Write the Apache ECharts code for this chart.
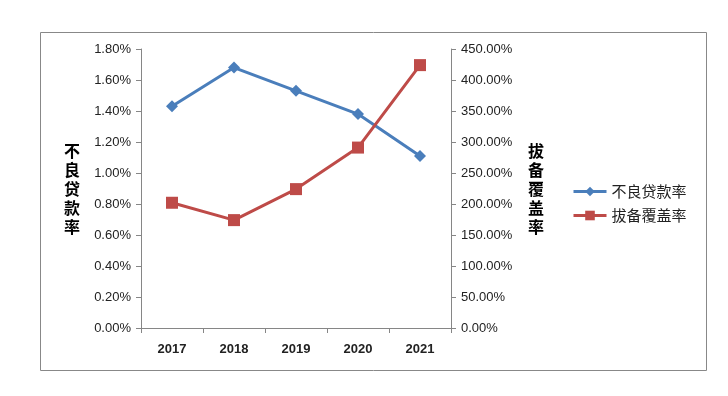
<!DOCTYPE html>
<html>
<head>
<meta charset="utf-8">
<script src="https://cdn.jsdelivr.net/npm/echarts@6/dist/echarts.min.js"></script>
<style>
  html, body { margin: 0; padding: 0; background: #fff; }
  #chart { width: 728px; height: 396px; }
</style>
</head>
<body>
<div id="chart"></div>
<script>
// 年份与两条序列
const years = ['2017', '2018', '2019', '2020', '2021'];
const nplRatio = [1.43, 1.68, 1.53, 1.38, 1.11];          // 不良贷款率 (%)
const coverageRatio = [202, 174, 224, 291, 424];           // 拔备覆盖率 (%)
const leftTicks = { min: 0, max: 1.8, interval: 0.2 };
const rightTicks = { min: 0, max: 450, interval: 50 };

let myChart = echarts.init(document.getElementById('chart'));
let axisColor = '#868686';
let labelColor = '#222';
let font = '"Liberation Sans", "DejaVu Sans", sans-serif';
let cjk = '"Noto Sans CJK SC", sans-serif';

let option = {
  animation: false,
  textStyle: { fontFamily: font },
  graphic: [{
    type: 'rect',
    shape: { x: 40.5, y: 32.5, width: 666, height: 338 },
    style: { fill: 'none', stroke: '#888', lineWidth: 1 }
  }],
  grid: { left: 141, right: 277, top: 49, bottom: 68 },
  legend: {
    orient: 'vertical',
    left: 567,
    top: 179,
    itemWidth: 33,
    itemHeight: 12,
    itemGap: 9,
    lineStyle: { width: 3 },
    textStyle: { fontFamily: cjk, fontSize: 15, color: '#222' },
    data: ['不良贷款率', '拔备覆盖率']
  },
  xAxis: {
    type: 'category',
    data: years,
    boundaryGap: true,
    axisLine: { lineStyle: { color: axisColor } },
    axisTick: { show: true, alignWithLabel: false, length: 5, lineStyle: { color: axisColor } },
    axisLabel: { color: labelColor, fontSize: 13, margin: 15, fontWeight: 'bold' },
    splitLine: { show: false }
  },
  yAxis: [{
    type: 'value',
    min: leftTicks.min, max: leftTicks.max, interval: leftTicks.interval,
    name: '不\n良\n贷\n款\n率',
    nameLocation: 'middle',
    nameRotate: 0,
    nameGap: 61,
    nameTextStyle: { fontFamily: cjk, fontWeight: 'bold', fontSize: 16, lineHeight: 19, color: '#000' },
    axisLine: { show: true, lineStyle: { color: axisColor } },
    axisTick: { show: true, length: 5, lineStyle: { color: axisColor } },
    axisLabel: { color: labelColor, fontSize: 13, margin: 10, formatter: v => v.toFixed(2) + '%' },
    splitLine: { show: false }
  }, {
    type: 'value',
    position: 'right',
    min: rightTicks.min, max: rightTicks.max, interval: rightTicks.interval,
    name: '拔\n备\n覆\n盖\n率',
    nameLocation: 'middle',
    nameRotate: 0,
    nameGap: 77,
    nameTextStyle: { fontFamily: cjk, fontWeight: 'bold', fontSize: 16, lineHeight: 19, color: '#000' },
    axisLine: { show: true, lineStyle: { color: axisColor } },
    axisTick: { show: true, length: 5, lineStyle: { color: axisColor } },
    axisLabel: { color: labelColor, fontSize: 13, margin: 10, formatter: v => v.toFixed(2) + '%' },
    splitLine: { show: false }
  }],
  series: [{
    name: '不良贷款率',
    type: 'line',
    yAxisIndex: 0,
    data: nplRatio,
    symbol: 'diamond',
    symbolSize: 12,
    itemStyle: { color: '#4a7ebb' },
    lineStyle: { color: '#4a7ebb', width: 3 }
  }, {
    name: '拔备覆盖率',
    type: 'line',
    yAxisIndex: 1,
    data: coverageRatio,
    symbol: 'rect',
    symbolSize: 12,
    itemStyle: { color: '#be4b48' },
    lineStyle: { color: '#be4b48', width: 3 }
  }]
};
myChart.setOption(option);
</script>
</body>
</html>
